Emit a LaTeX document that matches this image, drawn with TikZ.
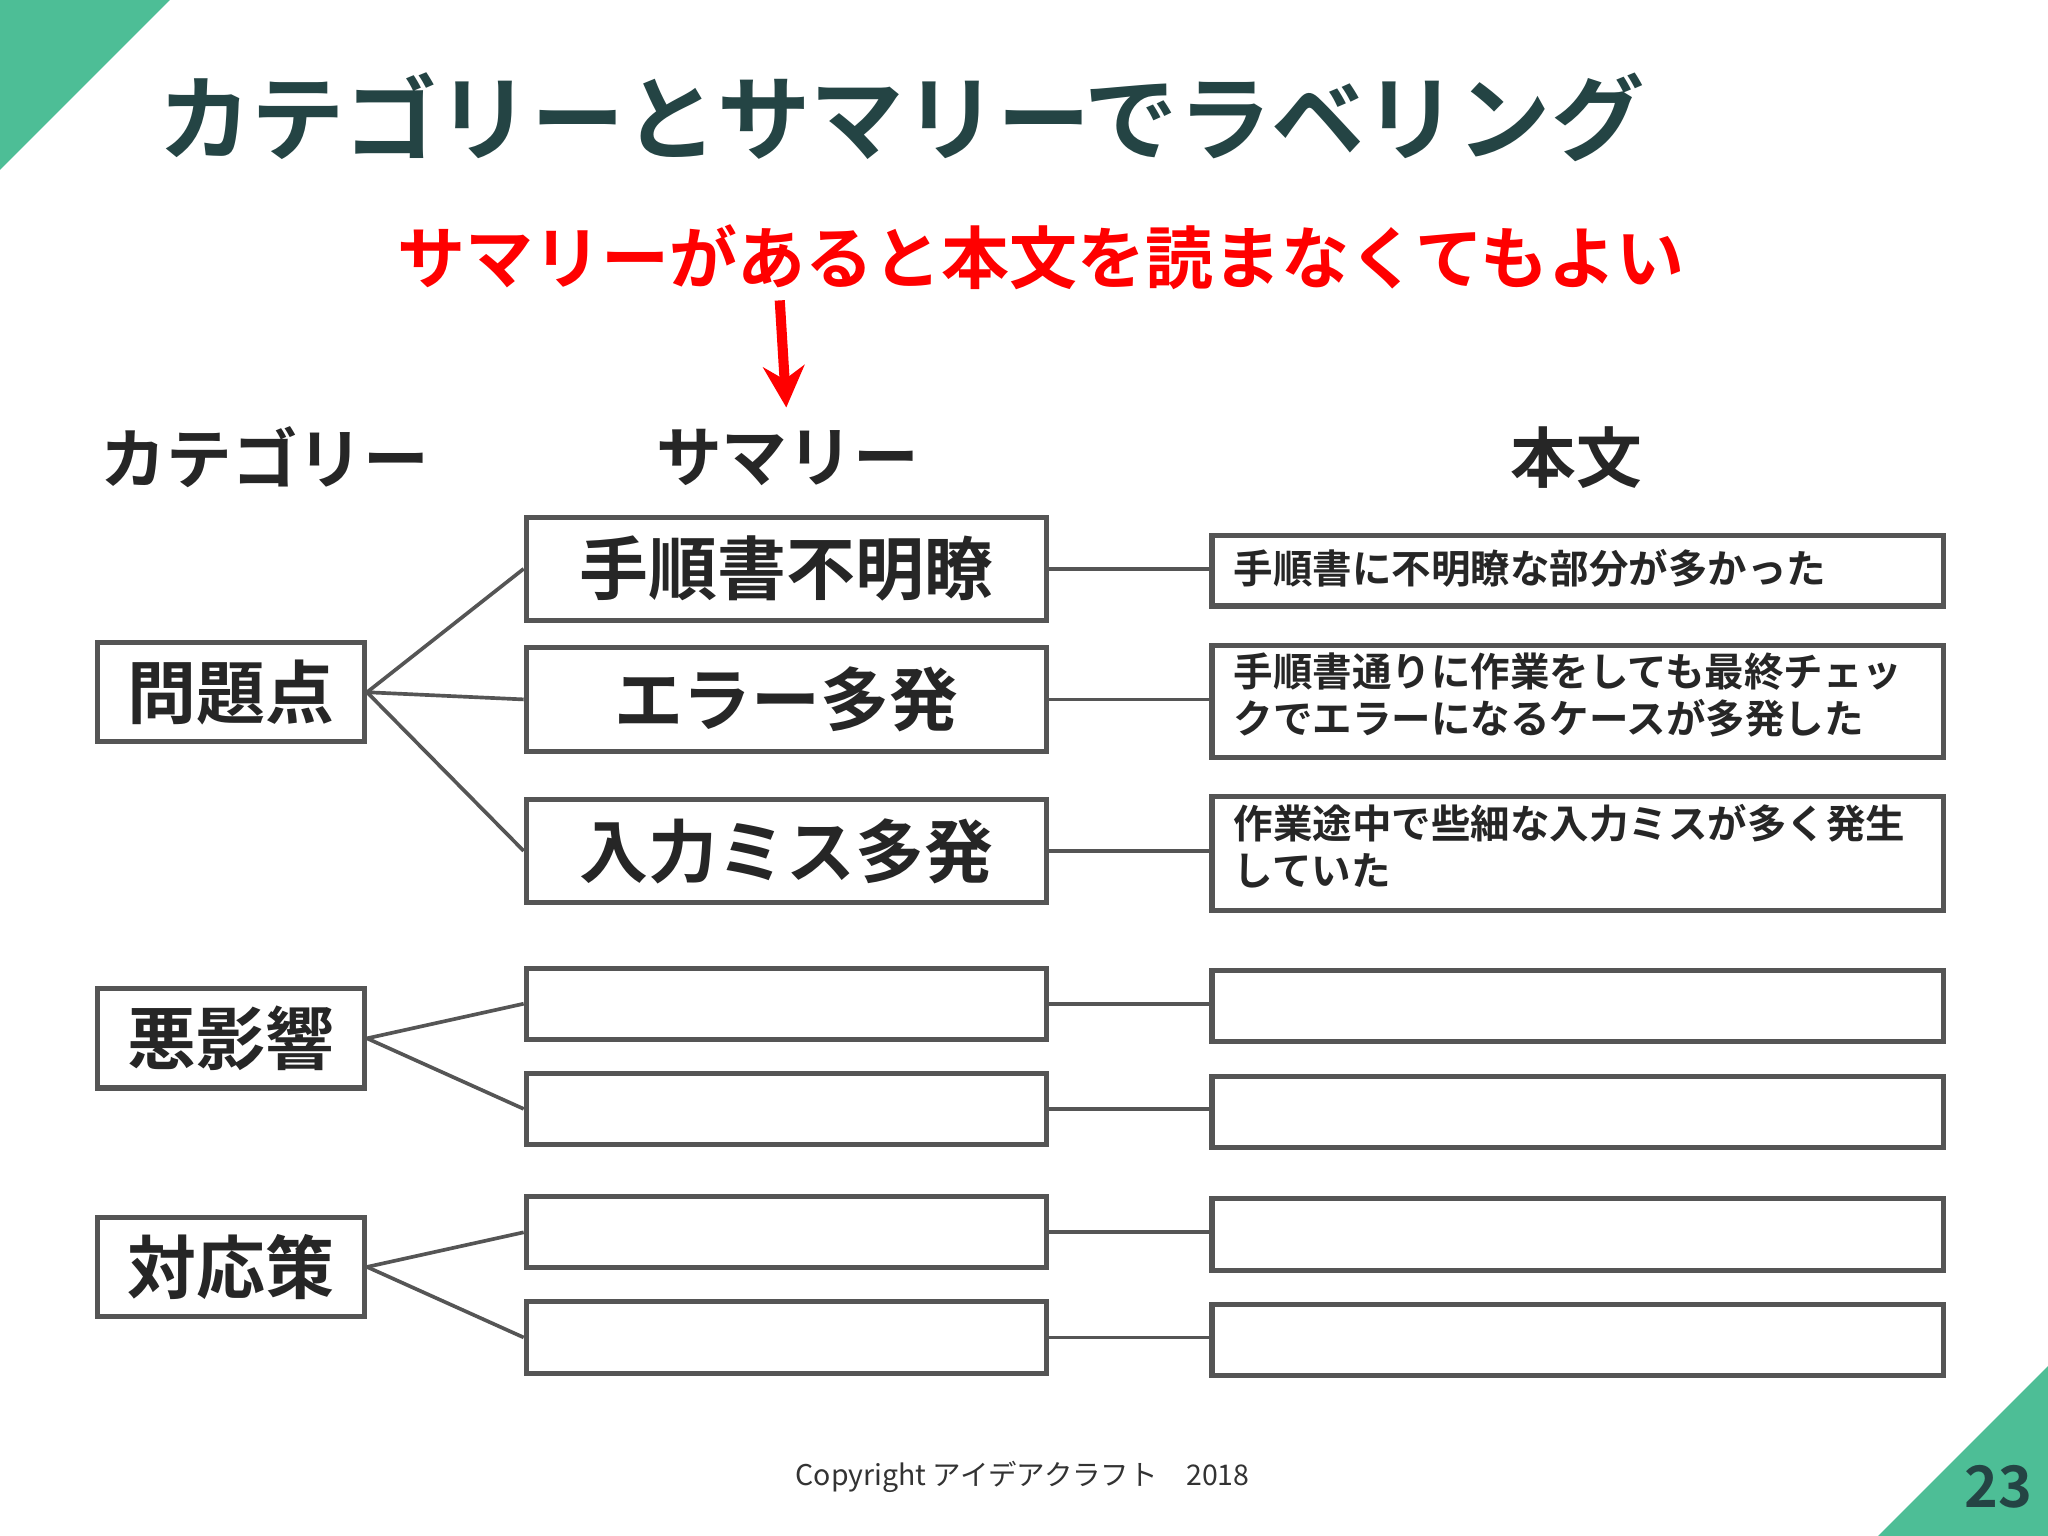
\documentclass[tikz,border=0pt]{standalone}
\usepackage{fontspec}
\usetikzlibrary{arrows.meta}
\setmainfont{Noto Sans CJK JP}
\newfontfamily\jpb{Noto Sans CJK JP Bold}
\definecolor{grn}{HTML}{4DBE96}
\definecolor{ttl}{HTML}{244444}
\definecolor{ln}{HTML}{555555}
\begin{document}
\begin{tikzpicture}[x=0.01cm,y=-0.01cm,
  bx/.style={draw=ln,line width=1.1pt,inner sep=0pt,font=\jpb\fontsize{15}{18}\selectfont,text=black!85},
  body/.style={draw=ln,line width=1.1pt,inner sep=0pt,anchor=north west},
  bt/.style={anchor=north west,align=left,font=\jpb\fontsize{8.6}{10.3}\selectfont,text=black!85,inner sep=0pt},
  cn/.style={draw=ln,line width=0.8pt}]
\useasboundingbox (0,0) rectangle (1568,1176);
\fill[white] (0,0) rectangle (1568,1176);
\fill[grn] (0,0) -- (130,0) -- (0,130) -- cycle;
\fill[grn] (1568,1046) -- (1568,1176) -- (1438,1176) -- cycle;
\node[text=ttl,font=\jpb\fontsize{20.3}{22}\selectfont] (title) at (690,90) {カテゴリーとサマリーでラベリング};
\node[text=red,font=\jpb\fontsize{14.8}{16}\selectfont] (note) at (797,197) {サマリーがあると本文を読まなくてもよい};
\coordinate (as) at (597,230); \coordinate (ae) at (602,312);
\draw[red,line width=2.2pt,-{Stealth[length=9pt,width=9pt]}] (as) -- (ae);
\node[font=\jpb\fontsize{14.3}{16}\selectfont,text=black!85] (h1) at (203,350) {カテゴリー};
\node[font=\jpb\fontsize{14.3}{16}\selectfont,text=black!85] (h2) at (603,350) {サマリー};
\node[font=\jpb\fontsize{14.3}{16}\selectfont,text=black!85] (h3) at (1207,350) {本文};
\foreach \n/\t/\y in {c1/問題点/530,c2/悪影響/795,c3/対応策/970}
  \node[bx,minimum width=2.04cm,minimum height=0.76cm] (\n) at (177,\y) {\t};
\node[bx,minimum width=3.98cm,minimum height=0.79cm] (s1) at (602,435.5) {手順書不明瞭};
\node[bx,minimum width=3.98cm,minimum height=0.79cm] (s2) at (602,535.5) {エラー多発};
\node[bx,minimum width=3.98cm,minimum height=0.79cm] (s3) at (602,651.5) {入力ミス多発};
\foreach \n/\y in {s4/768.5,s5/849,s6/943.5,s7/1024}
  \node[bx,minimum width=3.98cm,minimum height=0.545cm] (\n) at (602,\y) {};
\node[body,minimum width=5.6cm,minimum height=0.54cm] (b1) at (926,408) {};
\node[bt,anchor=west] (t1) at (944,435) {手順書に不明瞭な部分が多かった};
\node[body,minimum width=5.6cm,minimum height=0.86cm] (b2) at (926,492) {};
\node[bt] (t2) at (944,499) {手順書通りに作業をしても最終チェッ\\クでエラーになるケースが多発した};
\node[body,minimum width=5.6cm,minimum height=0.87cm] (b3) at (926,608) {};
\node[bt] (t3) at (944,615) {作業途中で些細な入力ミスが多く発生\\していた};
\foreach \n/\y in {b4/741,b5/822,b6/916,b7/997}
  \node[body,minimum width=5.6cm,minimum height=0.545cm] (\n) at (926,\y) {};
\foreach \s in {s1,s2,s3} \draw[cn] (c1.east) -- (\s.west);
\foreach \s in {s4,s5} \draw[cn] (c2.east) -- (\s.west);
\foreach \s in {s6,s7} \draw[cn] (c3.east) -- (\s.west);
\foreach \i in {1,...,7} \draw[cn] (s\i.east) -- (s\i.east -| b\i.west);
\node[font=\fontsize{6.2}{7}\selectfont,text=black!80] (copy) at (783,1131) {Copyright アイデアクラフト\quad 2018};
\node[font=\jpb\fontsize{12.5}{14}\selectfont,text=ttl] (pg) at (1530,1138) {23};
\end{tikzpicture}
\end{document}
